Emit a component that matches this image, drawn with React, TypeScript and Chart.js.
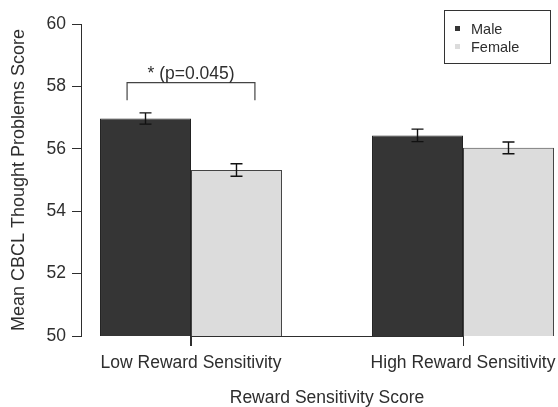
import React, { useEffect, useRef } from "react";
import { Chart, registerables } from "chart.js";

Chart.register(...registerables);

const categories = ["Low Reward Sensitivity", "High Reward Sensitivity"];
const seriesNames = ["Male", "Female"];
const maleMeans = [56.97, 56.43];
const femaleMeans = [55.32, 56.03];
const maleErrors = [0.18, 0.2];
const femaleErrors = [0.2, 0.19];
const yTickValues = [50, 52, 54, 56, 58, 60];
const yTitle = "Mean CBCL Thought Problems Score";
const xTitle = "Reward Sensitivity Score";
const sigText = "* (p=0.045)";
const sigBracket = { left: 0.765, right: 1.235, top: 58.12, drop: 57.56, textY: 58.4 };

const FONT = "'Liberation Sans', Arial, Helvetica, sans-serif";
const INK = "#2e2e2e";
const MALE = "#353535";
const FEMALE = "#dcdcdc";

const overlayPlugin = {
  id: "overlay",
  afterDatasetsDraw(chart: any) {
    const ctx = chart.ctx;
    const xs = chart.scales.x;
    const ys = chart.scales.y;
    ctx.save();
    // error bars
    chart.data.datasets.forEach((ds: any, d: number) => {
      const meta = chart.getDatasetMeta(d);
      meta.data.forEach((bar: any, i: number) => {
        const v = ds.data[i].y;
        const e = ds.errors[i];
        const yt = ys.getPixelForValue(v + e);
        const yb = ys.getPixelForValue(v - e);
        const x = bar.x;
        ctx.strokeStyle = "#111";
        ctx.lineWidth = 1.4;
        ctx.beginPath();
        ctx.moveTo(x, yt);
        ctx.lineTo(x, yb);
        ctx.moveTo(x - 6, yt);
        ctx.lineTo(x + 6, yt);
        ctx.moveTo(x - 6, yb);
        ctx.lineTo(x + 6, yb);
        ctx.stroke();
      });
    });
    // x axis line between first and last tick, with tick marks
    const bottom = chart.chartArea.bottom;
    ctx.strokeStyle = INK;
    ctx.lineWidth = 1;
    ctx.beginPath();
    ctx.moveTo(xs.getPixelForValue(1), bottom + 0.5);
    ctx.lineTo(xs.getPixelForValue(categories.length), bottom + 0.5);
    categories.forEach((_, i) => {
      const tx = Math.round(xs.getPixelForValue(i + 1)) + 0.5;
      ctx.moveTo(tx, bottom);
      ctx.lineTo(tx, bottom + 10);
    });
    ctx.stroke();
    // significance bracket
    const bl = xs.getPixelForValue(sigBracket.left);
    const br = xs.getPixelForValue(sigBracket.right);
    const bt = ys.getPixelForValue(sigBracket.top);
    const bd = ys.getPixelForValue(sigBracket.drop);
    ctx.strokeStyle = "#444";
    ctx.lineWidth = 1.2;
    ctx.beginPath();
    ctx.moveTo(bl, bd);
    ctx.lineTo(bl, bt);
    ctx.lineTo(br, bt);
    ctx.lineTo(br, bd);
    ctx.stroke();
    ctx.fillStyle = INK;
    ctx.font = `17.5px ${FONT}`;
    ctx.textAlign = "center";
    ctx.textBaseline = "middle";
    ctx.fillText(sigText, xs.getPixelForValue(1), ys.getPixelForValue(sigBracket.textY));
    // x title centred over the groups
    ctx.fillText(xTitle, xs.getPixelForValue((1 + categories.length) / 2), bottom + 62);
    // legend box
    ctx.strokeStyle = "#333";
    ctx.lineWidth = 1;
    ctx.strokeRect(444.5, 10.5, 106, 53);
    ctx.font = `14.5px ${FONT}`;
    ctx.textAlign = "left";
    chart.data.datasets.forEach((ds: any, d: number) => {
      const cy = 28.5 + d * 18;
      ctx.fillStyle = ds.backgroundColor;
      ctx.fillRect(455, cy - 2.5, 5, 5);
      ctx.fillStyle = INK;
      ctx.fillText(ds.label, 471, cy + 1);
    });
    ctx.restore();
  },
};

export default function App() {
  const ref = useRef<HTMLCanvasElement | null>(null);
  useEffect(() => {
    document.body.style.margin = "0";
    if (!ref.current) return;
    const chart = new Chart(ref.current, {
      type: "bar",
      data: {
        datasets: [
          {
            label: seriesNames[0],
            data: categories.map((_, i) => ({ x: i + 1, y: maleMeans[i] })),
            errors: maleErrors,
            backgroundColor: MALE,
            borderColor: "#222",
            borderWidth: 1,
          } as any,
          {
            label: seriesNames[1],
            data: categories.map((_, i) => ({ x: i + 1, y: femaleMeans[i] })),
            errors: femaleErrors,
            backgroundColor: FEMALE,
            borderColor: "#444",
            borderWidth: 1,
          } as any,
        ],
      },
      options: {
        responsive: false,
        animation: false,
        layout: { padding: { top: 24, right: 2, left: 0, bottom: 0 } },
        datasets: { bar: { categoryPercentage: 0.669, barPercentage: 1, grouped: true } },
        plugins: { legend: { display: false }, tooltip: { enabled: false } },
        scales: {
          x: {
            type: "linear",
            offset: false,
            min: 0.5956,
            max: 2.3419,
            afterBuildTicks: (s: any) => {
              s.ticks = categories.map((_, i) => ({ value: i + 1 }));
            },
            afterFit: (s: any) => {
              s.height = 71;
              s.paddingLeft = 0;
              s.paddingRight = 0;
            },
            grid: { offset: false, drawOnChartArea: false, drawTicks: true, tickLength: 10, color: INK, tickWidth: 1 },
            border: { display: false },
            ticks: {
              padding: 7,
              color: INK,
              font: { family: FONT, size: 17.5 },
              maxRotation: 0,
              autoSkip: false,
              callback: (v: any) => categories[Math.round(Number(v)) - 1] ?? "",
            },
          },
          y: {
            min: 50,
            max: 60,
            afterBuildTicks: (s: any) => {
              s.ticks = yTickValues.map((v) => ({ value: v }));
            },
            afterFit: (s: any) => {
              s.width = 81;
              s.paddingTop = 0;
              s.paddingBottom = 0;
            },
            grid: { drawOnChartArea: false, drawTicks: true, tickLength: 9, color: INK, tickWidth: 1 },
            border: { display: true, color: INK, width: 1 },
            ticks: {
              padding: 6,
              color: INK,
              font: { family: FONT, size: 17.5 },
            },
            title: {
              display: true,
              text: yTitle,
              color: INK,
              font: { family: FONT, size: 18 },
              padding: { top: 8, bottom: 0 },
            },
          },
        },
      },
      plugins: [overlayPlugin],
    } as any);
    return () => chart.destroy();
  }, []);
  return (
    <div style={{ width: 558, height: 407, background: "#fff" }}>
      <canvas ref={ref} width={558} height={407} style={{ display: "block" }} />
    </div>
  );
}
